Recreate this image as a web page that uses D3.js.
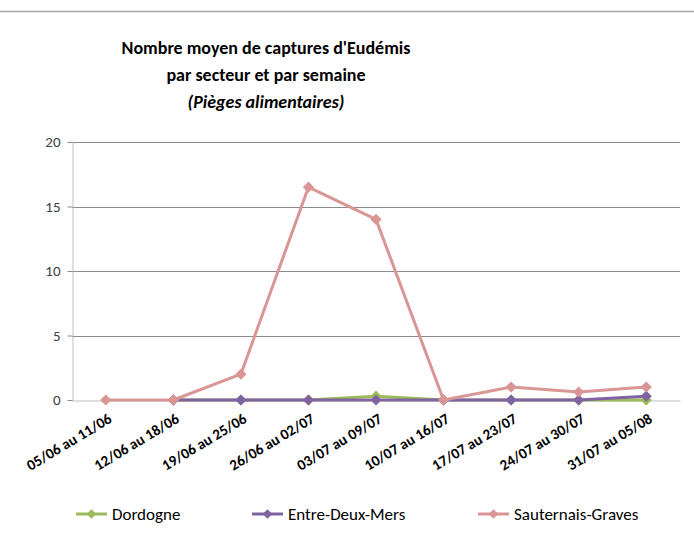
<!DOCTYPE html>
<html><head><meta charset="utf-8">
<script src="https://cdn.jsdelivr.net/npm/d3@7"></script>
<style>body{margin:0;background:#fff}svg{display:block;font-family:Carlito,Lato,sans-serif}</style>
</head><body><svg id="c" width="694" height="537"></svg>
<script>
const categories = ["05/06 au 11/06","12/06 au 18/06","19/06 au 25/06","26/06 au 02/07","03/07 au 09/07","10/07 au 16/07","17/07 au 23/07","24/07 au 30/07","31/07 au 05/08"];
const dordogne = [null,0,0,0,0.3,0,0,0,0];
const entreDeuxMers = [null,0,0,0,0,0,0,0,0.3];
const sauternais = [0,0,2,16.5,14,0,1,0.62,1];
const yTicks = [0,5,10,15,20];
const seriesNames = ["Dordogne","Entre-Deux-Mers","Sauternais-Graves"];
const colors = ["#9BBB59","#8064A2","#D99694"];
const series = [dordogne, entreDeuxMers, sauternais];

const svg = d3.select("#c");
const L = 72, R = 680, T = 142, B = 400;
const x = d3.scaleBand().domain(categories).range([L, R]);
const y = d3.scaleLinear().domain([0,20]).range([B, T]);
const diamondType = d3.symbolDiamond2 || d3.symbolDiamond;

svg.append("line").attr("x1",0).attr("x2",694).attr("y1",11.5).attr("y2",11.5).attr("stroke","#a6a6a6").attr("stroke-width",1.5);

// title
const title = svg.append("text").attr("text-anchor","middle").attr("font-weight","bold").attr("font-size",18).attr("fill","#000");
title.append("tspan").attr("x",266).attr("y",54).text("Nombre moyen de captures d'Eudémis");
title.append("tspan").attr("x",266).attr("y",81).text("par secteur et par semaine");
title.append("tspan").attr("x",266).attr("y",108).attr("font-style","italic").text("(Pièges alimentaires)");

// gridlines
svg.append("g").selectAll("line").data(yTicks.filter(d=>d>0)).join("line")
  .attr("x1",L).attr("x2",R).attr("y1",d=>Math.round(y(d))+0.5).attr("y2",d=>Math.round(y(d))+0.5)
  .attr("stroke","#8c8c8c").attr("stroke-width",1);

// y axis
const ya = svg.append("g").attr("transform",`translate(${L+0.5},0)`).call(d3.axisLeft(y).tickValues(yTicks).tickSize(5).tickPadding(7));
ya.select(".domain").attr("stroke","#bfbfbf");
ya.selectAll(".tick line").attr("stroke","#8c8c8c");
ya.selectAll("text").attr("font-size",15).attr("fill","#404040").style("font-family","Carlito,Lato,sans-serif");

// x axis
const xa = svg.append("g").attr("transform",`translate(0,${B+0.5})`).call(d3.axisBottom(x).tickSize(0).tickSizeOuter(0).tickPadding(0));
xa.select(".domain").attr("stroke","#bfbfbf");
xa.selectAll("text").attr("font-size",15).attr("font-weight","bold").attr("fill","#000")
  .style("font-family","Carlito,Lato,sans-serif")
  .attr("text-anchor","end").attr("dy",0).attr("transform","translate(7,21) rotate(-31)");

const line = d3.line().defined(d=>d.v!==null).x(d=>x(d.c)+x.bandwidth()/2).y(d=>y(d.v));

series.forEach((s,i)=>{
  const data = s.map((v,j)=>({c:categories[j], v}));
  svg.append("path").datum(data).attr("d",line).attr("fill","none").attr("stroke",colors[i]).attr("stroke-width",3).attr("stroke-linejoin","round");
  svg.append("g").selectAll("path").data(data.filter(d=>d.v!==null)).join("path")
    .attr("d",d3.symbol().type(diamondType).size(80))
    .attr("transform",d=>`translate(${x(d.c)+x.bandwidth()/2},${y(d.v)})`)
    .attr("fill",colors[i]);
});

// legend
const legX = [76, 252, 478];
seriesNames.forEach((n,i)=>{
  const g = svg.append("g").attr("transform",`translate(${legX[i]},514)`);
  g.append("line").attr("x1",0).attr("x2",31).attr("stroke",colors[i]).attr("stroke-width",3);
  g.append("path").attr("d",d3.symbol().type(diamondType).size(60)).attr("transform","translate(15.5,0)").attr("fill",colors[i]);
  g.append("text").attr("x",36).attr("y",6).attr("font-size",17).attr("fill","#000").text(n);
});
</script></body></html>
